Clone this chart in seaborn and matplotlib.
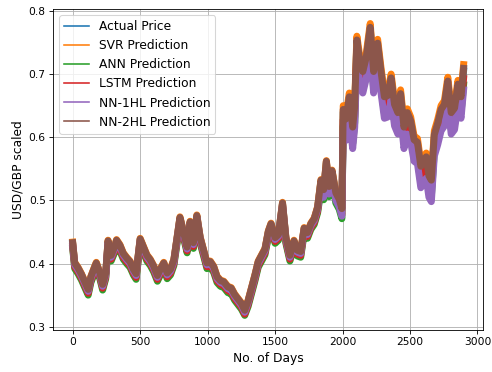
import matplotlib
matplotlib.use("Agg")
import matplotlib.pyplot as plt
import pandas as pd
import seaborn as sns

days = [0, 15, 40, 65, 90, 115, 135, 160, 175, 200, 222, 245, 262, 285, 310, 325, 350, 375, 400, 425,
        450, 470, 500, 525, 550, 575, 600, 628, 650, 675, 700, 725, 750, 775, 795, 820, 848, 870, 895, 920,
        945, 970, 995, 1020, 1045, 1070, 1095, 1120, 1150, 1175, 1200, 1225, 1250, 1275, 1300, 1325, 1350, 1375, 1400, 1425,
        1450, 1470, 1500, 1525, 1555, 1580, 1610, 1640, 1665, 1690, 1715, 1740, 1765, 1790, 1815,
        1840, 1860, 1880, 1900, 1922, 1950, 1975, 1995,
        2005, 2025, 2050, 2075, 2090, 2106, 2125, 2150, 2175, 2205, 2230, 2260, 2285, 2310, 2335, 2360,
        2385, 2410, 2430, 2455, 2480, 2505, 2530, 2555, 2580, 2605, 2620, 2640, 2658, 2680, 2705, 2730,
        2755, 2780, 2805, 2830, 2855, 2878, 2897]

actual = [0.432, 0.400, 0.392, 0.382, 0.370, 0.358, 0.378, 0.392, 0.400, 0.385, 0.366, 0.384, 0.435, 0.412, 0.425, 0.436, 0.428, 0.415, 0.408, 0.402,
          0.390, 0.383, 0.438, 0.425, 0.412, 0.405, 0.395, 0.380, 0.390, 0.400, 0.384, 0.390, 0.405, 0.442, 0.472, 0.450, 0.425, 0.465, 0.432, 0.475,
          0.440, 0.420, 0.400, 0.402, 0.394, 0.378, 0.372, 0.370, 0.362, 0.360, 0.350, 0.343, 0.336, 0.325, 0.340, 0.360, 0.380, 0.402, 0.412, 0.422,
          0.450, 0.462, 0.440, 0.445, 0.495, 0.440, 0.412, 0.435, 0.420, 0.418, 0.455, 0.448, 0.462, 0.470, 0.488,
          0.530, 0.515, 0.560, 0.520, 0.545, 0.510, 0.500, 0.485,
          0.640, 0.625, 0.660, 0.612, 0.645, 0.750, 0.722, 0.700, 0.722, 0.770, 0.700, 0.745, 0.700, 0.660, 0.662, 0.690,
          0.648, 0.635, 0.665, 0.612, 0.635, 0.622, 0.592, 0.588, 0.550, 0.560, 0.565, 0.535, 0.528, 0.600, 0.618, 0.640,
          0.648, 0.685, 0.635, 0.642, 0.680, 0.660, 0.705]

svr = [0.434, 0.402, 0.394, 0.384, 0.372, 0.360, 0.380, 0.394, 0.402, 0.387, 0.368, 0.386, 0.437, 0.414, 0.427, 0.438, 0.430, 0.417, 0.410, 0.404,
       0.392, 0.385, 0.440, 0.427, 0.414, 0.407, 0.397, 0.382, 0.392, 0.402, 0.386, 0.392, 0.407, 0.444, 0.474, 0.452, 0.427, 0.467, 0.434, 0.477,
       0.442, 0.422, 0.402, 0.404, 0.396, 0.380, 0.374, 0.372, 0.364, 0.362, 0.352, 0.345, 0.338, 0.327, 0.342, 0.362, 0.382, 0.404, 0.414, 0.424,
       0.452, 0.464, 0.442, 0.447, 0.497, 0.442, 0.414, 0.437, 0.422, 0.420, 0.457, 0.450, 0.464, 0.472, 0.490,
       0.533, 0.518, 0.563, 0.523, 0.548, 0.513, 0.503, 0.488,
       0.650, 0.635, 0.670, 0.622, 0.655, 0.760, 0.732, 0.710, 0.732, 0.780, 0.710, 0.755, 0.710, 0.670, 0.672, 0.700,
       0.658, 0.645, 0.675, 0.622, 0.645, 0.632, 0.602, 0.598, 0.560, 0.570, 0.575, 0.545, 0.538, 0.610, 0.628, 0.650,
       0.658, 0.695, 0.645, 0.652, 0.690, 0.670, 0.715]

ann = [0.424, 0.392, 0.384, 0.374, 0.362, 0.350, 0.370, 0.384, 0.392, 0.377, 0.358, 0.376, 0.427, 0.404, 0.417, 0.428, 0.420, 0.407, 0.400, 0.394,
       0.382, 0.375, 0.430, 0.417, 0.404, 0.397, 0.387, 0.372, 0.382, 0.392, 0.376, 0.382, 0.397, 0.434, 0.464, 0.442, 0.417, 0.457, 0.424, 0.467,
       0.432, 0.412, 0.392, 0.394, 0.386, 0.370, 0.364, 0.362, 0.354, 0.352, 0.342, 0.335, 0.328, 0.318, 0.332, 0.352, 0.372, 0.394, 0.404, 0.414,
       0.442, 0.454, 0.432, 0.437, 0.487, 0.432, 0.404, 0.427, 0.412, 0.410, 0.447, 0.440, 0.454, 0.462, 0.480,
       0.516, 0.501, 0.546, 0.506, 0.531, 0.496, 0.486, 0.471,
       0.618, 0.603, 0.638, 0.590, 0.623, 0.728, 0.700, 0.678, 0.700, 0.748, 0.678, 0.723, 0.678, 0.638, 0.640, 0.668,
       0.626, 0.613, 0.643, 0.590, 0.613, 0.600, 0.570, 0.566, 0.528, 0.538, 0.543, 0.513, 0.506, 0.578, 0.596, 0.618,
       0.626, 0.663, 0.613, 0.620, 0.658, 0.638, 0.683]

lstm = [0.427, 0.395, 0.387, 0.377, 0.365, 0.353, 0.373, 0.387, 0.395, 0.380, 0.361, 0.379, 0.430, 0.407, 0.420, 0.431, 0.423, 0.410, 0.403, 0.397,
        0.385, 0.378, 0.433, 0.420, 0.407, 0.400, 0.390, 0.375, 0.385, 0.395, 0.379, 0.385, 0.400, 0.437, 0.467, 0.445, 0.420, 0.460, 0.427, 0.470,
        0.435, 0.415, 0.395, 0.397, 0.389, 0.373, 0.367, 0.365, 0.357, 0.355, 0.345, 0.338, 0.331, 0.320, 0.335, 0.355, 0.375, 0.397, 0.407, 0.417,
        0.445, 0.457, 0.435, 0.440, 0.490, 0.435, 0.407, 0.430, 0.415, 0.413, 0.450, 0.443, 0.457, 0.465, 0.483,
        0.522, 0.507, 0.552, 0.512, 0.537, 0.502, 0.492, 0.477,
        0.628, 0.613, 0.648, 0.600, 0.633, 0.738, 0.710, 0.688, 0.710, 0.758, 0.688, 0.733, 0.688, 0.648, 0.650, 0.678,
        0.636, 0.623, 0.653, 0.600, 0.623, 0.610, 0.580, 0.576, 0.538, 0.548, 0.553, 0.523, 0.516, 0.588, 0.606, 0.628,
        0.636, 0.673, 0.623, 0.630, 0.668, 0.648, 0.693]

nn1 = [0.430, 0.398, 0.390, 0.380, 0.368, 0.356, 0.376, 0.390, 0.398, 0.383, 0.364, 0.382, 0.433, 0.410, 0.423, 0.434, 0.426, 0.413, 0.406, 0.400,
       0.388, 0.381, 0.436, 0.423, 0.410, 0.403, 0.393, 0.378, 0.388, 0.398, 0.382, 0.388, 0.403, 0.440, 0.470, 0.448, 0.423, 0.463, 0.430, 0.473,
       0.438, 0.418, 0.398, 0.400, 0.392, 0.376, 0.370, 0.368, 0.360, 0.358, 0.348, 0.341, 0.334, 0.323, 0.338, 0.358, 0.378, 0.400, 0.410, 0.420,
       0.448, 0.460, 0.438, 0.443, 0.493, 0.438, 0.410, 0.433, 0.418, 0.416, 0.453, 0.446, 0.460, 0.468, 0.486,
       0.520, 0.505, 0.550, 0.510, 0.535, 0.500, 0.490, 0.475,
       0.610, 0.595, 0.630, 0.582, 0.615, 0.720, 0.692, 0.670, 0.692, 0.740, 0.670, 0.715, 0.670, 0.630, 0.632, 0.660,
       0.618, 0.605, 0.635, 0.582, 0.605, 0.592, 0.562, 0.558, 0.520, 0.530, 0.535, 0.505, 0.498, 0.570, 0.588, 0.610,
       0.618, 0.655, 0.605, 0.612, 0.650, 0.630, 0.675]

nn2 = [0.433, 0.401, 0.393, 0.383, 0.371, 0.359, 0.379, 0.393, 0.401, 0.386, 0.367, 0.385, 0.436, 0.413, 0.426, 0.437, 0.429, 0.416, 0.409, 0.403,
       0.391, 0.384, 0.439, 0.426, 0.413, 0.406, 0.396, 0.381, 0.391, 0.401, 0.385, 0.391, 0.406, 0.443, 0.473, 0.451, 0.426, 0.466, 0.433, 0.476,
       0.441, 0.421, 0.401, 0.403, 0.395, 0.379, 0.373, 0.371, 0.363, 0.361, 0.351, 0.344, 0.337, 0.326, 0.341, 0.361, 0.381, 0.403, 0.413, 0.423,
       0.451, 0.463, 0.441, 0.446, 0.496, 0.441, 0.413, 0.436, 0.421, 0.419, 0.456, 0.449, 0.463, 0.471, 0.489,
       0.532, 0.517, 0.562, 0.522, 0.547, 0.512, 0.502, 0.487,
       0.644, 0.629, 0.664, 0.616, 0.649, 0.754, 0.726, 0.704, 0.726, 0.774, 0.704, 0.749, 0.704, 0.664, 0.666, 0.694,
       0.652, 0.639, 0.669, 0.616, 0.639, 0.626, 0.596, 0.592, 0.554, 0.564, 0.569, 0.539, 0.532, 0.604, 0.622, 0.644,
       0.652, 0.689, 0.639, 0.646, 0.684, 0.664, 0.709]

series_names = ["Actual Price", "SVR Prediction", "ANN Prediction", "LSTM Prediction",
                "NN-1HL Prediction", "NN-2HL Prediction"]
colors = ["#1f77b4", "#ff7f0e", "#2ca02c", "#d62728", "#9467bd", "#8c564b"]

df = pd.DataFrame({"Day": days,
                   series_names[0]: actual, series_names[1]: svr, series_names[2]: ann,
                   series_names[3]: lstm, series_names[4]: nn1, series_names[5]: nn2})
long_df = df.melt(id_vars="Day", var_name="Series", value_name="Value")

DPI = 76.875
fig, ax = plt.subplots(figsize=(492 / DPI, 372 / DPI), dpi=DPI)
sns.lineplot(data=long_df, x="Day", y="Value", hue="Series", hue_order=series_names,
             palette=colors, linewidth=6.5, estimator=None, sort=False, ax=ax)
ax.grid(True)
ax.set_xlabel("No. of Days", fontsize=11.5)
ax.set_ylabel("USD/GBP scaled", fontsize=11.5)
leg = ax.legend(loc="upper left", fontsize=11.5)
for line in leg.get_lines():
    line.set_linewidth(1.5)
fig.subplots_adjust(left=0.108, right=0.982, bottom=0.113, top=0.976)
fig.savefig("out.png", dpi=DPI)
